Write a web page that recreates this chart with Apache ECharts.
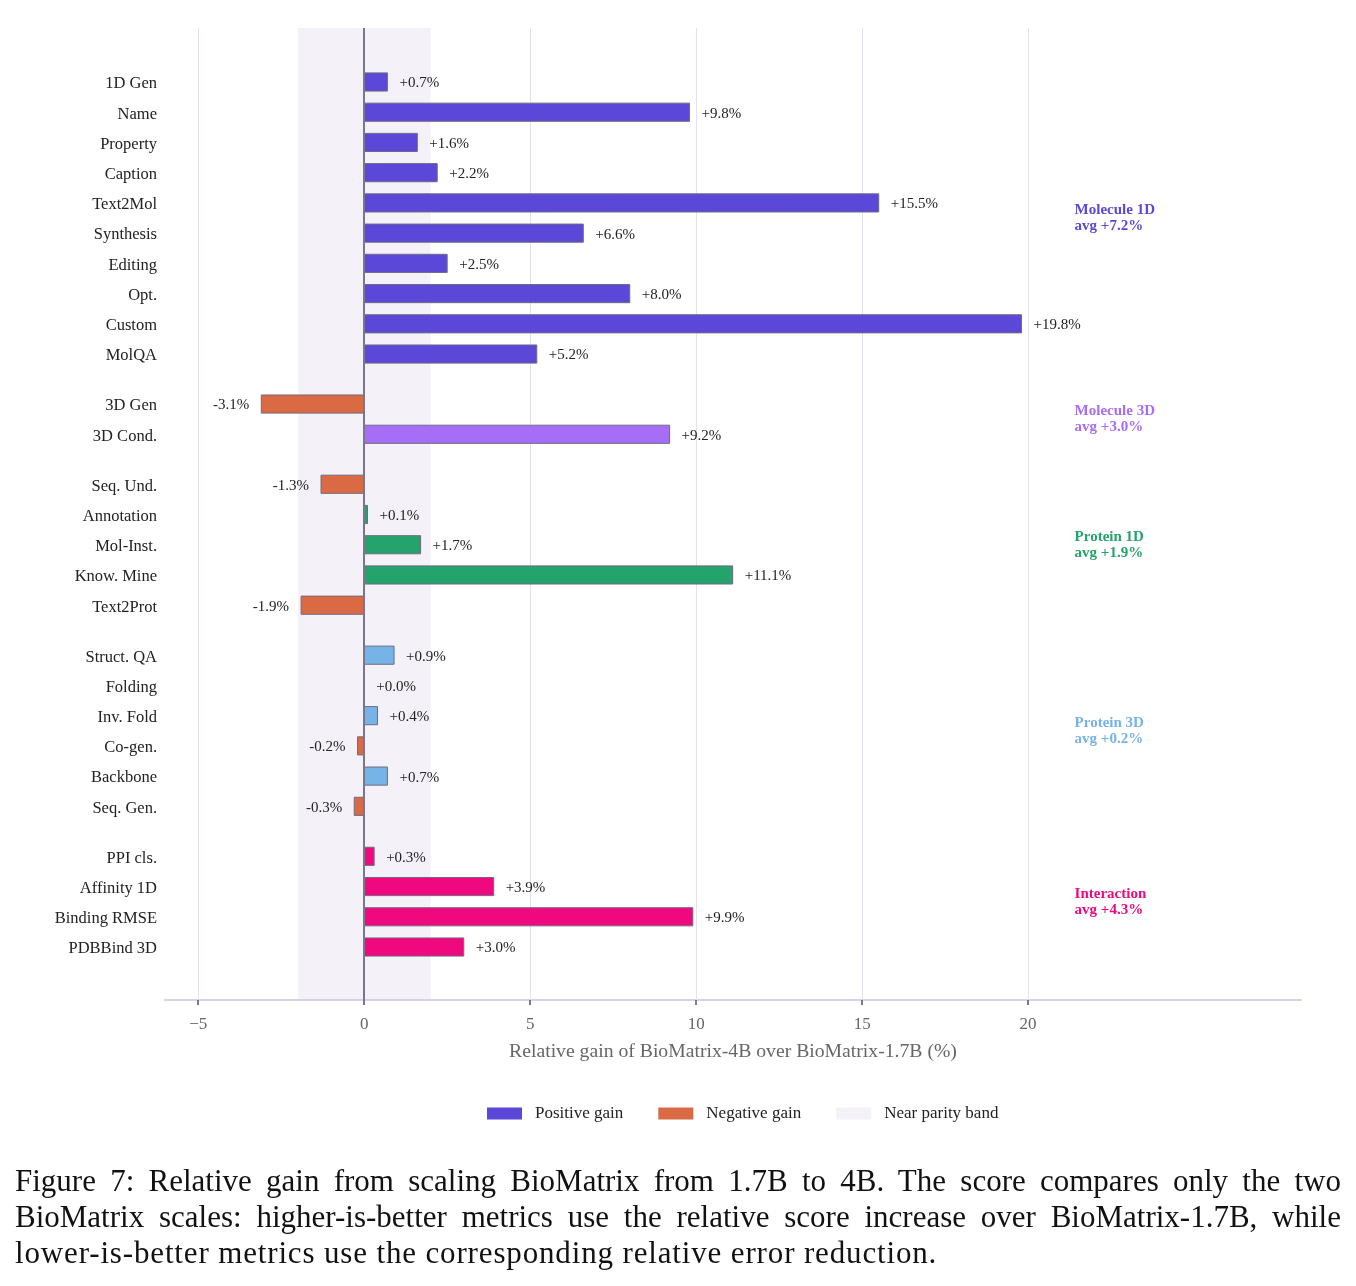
<!DOCTYPE html>
<html>
<head>
<meta charset="utf-8">
<script src="https://cdn.jsdelivr.net/npm/echarts@6/dist/echarts.min.js"></script>
<style>
  html, body { margin: 0; padding: 0; background: #fff; }
  #chart { width: 1356px; height: 1286px; }
  #caption {
    position: absolute; left: 15px; top: 1163px; width: 1326px;
    font-family: "Liberation Serif", serif; font-size: 31px;
    line-height: 36px; color: #111;
  }
  #caption span { display: block; text-align: justify; text-align-last: justify; white-space: normal; }
  #caption span.last { text-align-last: left; letter-spacing: 0.85px; }
</style>
</head>
<body>
<div id="chart"></div>
<div id="caption">
  <span>Figure 7: Relative gain from scaling BioMatrix from 1.7B to 4B. The score compares only the two</span>
  <span>BioMatrix scales: higher-is-better metrics use the relative score increase over BioMatrix-1.7B, while</span>
  <span class="last">lower-is-better metrics use the corresponding relative error reduction.</span>
</div>
<script>
// data
const groups = ['Molecule 1D', 'Molecule 3D', 'Protein 1D', 'Protein 3D', 'Interaction'];
const groupSizes = [10, 2, 5, 6, 4];
const groupAvg = [7.2, 3.0, 1.9, 0.2, 4.3];
const groupColors = ['#5b48d8', '#a66ef6', '#24a36c', '#76b3e7', '#f0087f'];
const negColor = '#d96a44';
const bandColor = '#f4f1f9';

const categories = [
  '1D Gen', 'Name', 'Property', 'Caption', 'Text2Mol', 'Synthesis', 'Editing', 'Opt.', 'Custom', 'MolQA',
  '3D Gen', '3D Cond.',
  'Seq. Und.', 'Annotation', 'Mol-Inst.', 'Know. Mine', 'Text2Prot',
  'Struct. QA', 'Folding', 'Inv. Fold', 'Co-gen.', 'Backbone', 'Seq. Gen.',
  'PPI cls.', 'Affinity 1D', 'Binding RMSE', 'PDBBind 3D'
];
const gains = [
  0.7, 9.8, 1.6, 2.2, 15.5, 6.6, 2.5, 8.0, 19.8, 5.2,
  -3.1, 9.2,
  -1.3, 0.1, 1.7, 11.1, -1.9,
  0.9, 0.0, 0.4, -0.2, 0.7, -0.3,
  0.3, 3.9, 9.9, 3.0
];
const xTicks = [-5, 0, 5, 10, 15, 20];
const parityBand = [-2, 2];

// row layout: one unit per row, extra space between groups
const GROUP_GAP = 0.654;
const positions = [];
const groupOf = [];
const groupCenters = [];
let cursor = 0;
groupSizes.forEach((n, g) => {
  const first = cursor;
  for (let i = 0; i < n; i++) {
    positions.push(cursor);
    groupOf.push(g);
    cursor += 1;
  }
  groupCenters.push((first + cursor - 1) / 2);
  cursor += GROUP_GAP;
});
const lastPos = positions[positions.length - 1];

const FONT = '"Liberation Serif", "Times New Roman", serif';

function fmtGain(v) {
  return (v >= 0 ? '+' : '-') + Math.abs(v).toFixed(1) + '%';
}

function labelAt(v) {
  let best = 0;
  positions.forEach((p, i) => {
    if (Math.abs(p - v) < Math.abs(positions[best] - v)) best = i;
  });
  return categories[best];
}

function renderBar(params, api) {
  const v = api.value(0);
  const y = api.value(1);
  const g = api.value(2);
  const start = api.coord([0, y]);
  const end = api.coord([v, y]);
  const h = api.size([0, 1])[1] * 0.6;
  const color = v < 0 ? negColor : groupColors[g];
  return {
    type: 'group',
    children: [
      {
        type: 'rect',
        shape: { x: Math.min(start[0], end[0]), y: start[1] - h / 2, width: Math.abs(end[0] - start[0]), height: h },
        style: { fill: color, stroke: '#6f6b80', lineWidth: 1 }
      },
      {
        type: 'text',
        x: v < 0 ? end[0] - 12 : end[0] + 12,
        y: start[1] + 1.5,
        style: {
          text: fmtGain(v), fill: '#222', fontSize: 15, fontFamily: FONT,
          align: v < 0 ? 'right' : 'left', verticalAlign: 'middle'
        }
      }
    ]
  };
}

function renderGroupLabel(params, api) {
  const g = api.value(2);
  const pt = api.coord([api.value(0), api.value(1)]);
  return {
    type: 'text',
    x: pt[0],
    y: pt[1],
    style: {
      text: groups[g] + '\navg ' + fmtGain(groupAvg[g]),
      fill: groupColors[g], fontSize: 15, fontWeight: 'bold', fontFamily: FONT,
      lineHeight: 16, align: 'left', verticalAlign: 'middle'
    }
  };
}

const posData = [], negData = [];
gains.forEach((v, i) => {
  const row = [v, positions[i], groupOf[i]];
  if (v < 0) negData.push(row); else posData.push(row);
});

const X_MIN = -6, X_MAX = 28.22;
const LABEL_X = 21.4;

const chart = echarts.init(document.getElementById('chart'), null, { renderer: 'canvas' });

const option = {
  animation: false,
  textStyle: { fontFamily: FONT },
  grid: { left: 165, right: 55, top: 28, bottom: 286, containLabel: false },
  legend: {
    data: ['Positive gain', 'Negative gain', 'Near parity band'],
    top: 1100,
    left: 482,
    icon: 'rect',
    itemWidth: 35,
    itemHeight: 12,
    itemGap: 35,
    textStyle: { fontSize: 17, color: '#222', fontFamily: FONT, padding: [2, 0, 0, 8] }
  },
  xAxis: {
    type: 'value',
    min: X_MIN,
    max: X_MAX,
    name: 'Relative gain of BioMatrix-4B over BioMatrix-1.7B (%)',
    nameLocation: 'middle',
    nameGap: 42,
    nameTextStyle: { color: '#666', fontSize: 19.7, fontFamily: FONT },
    axisLine: { show: true, onZero: false, lineStyle: { color: '#d6d2e6', width: 2 } },
    axisTick: { show: true, customValues: xTicks, length: 5, lineStyle: { color: '#555', width: 1.5 } },
    axisLabel: {
      customValues: xTicks,
      margin: 16,
      color: '#666',
      fontSize: 17,
      fontFamily: FONT,
      formatter: v => (v < 0 ? '\u2212' + Math.abs(v) : String(v))
    },
    splitLine: { show: false }
  },
  yAxis: {
    type: 'value',
    inverse: true,
    min: -1.786,
    max: lastPos + 1.753,
    axisLine: { show: false, onZero: false },
    axisTick: { show: false },
    splitLine: { show: false },
    axisLabel: {
      customValues: positions,
      margin: 8,
      color: '#222',
      fontSize: 16.5,
      fontFamily: FONT,
      formatter: v => '{a|' + labelAt(v) + '}',
      rich: {
        a: { fontSize: 16.5, fontFamily: FONT, color: '#222', padding: [4, 0, 0, 0] }
      }
    }
  },
  series: [
    {
      name: 'Near parity band',
      type: 'line',
      data: [],
      z: 1,
      itemStyle: { color: bandColor },
      lineStyle: { color: bandColor },
      markArea: {
        silent: true,
        z: 0,
        itemStyle: { color: bandColor },
        data: [[{ xAxis: parityBand[0] }, { xAxis: parityBand[1] }]]
      },
      markLine: {
        silent: true,
        z: 1,
        symbol: 'none',
        label: { show: false },
        lineStyle: { color: '#e4e1ec', width: 1, type: 'solid' },
        data: xTicks.filter(v => v !== 0).map(v => ({ xAxis: v }))
      }
    },
    {
      name: 'Positive gain',
      type: 'custom',
      z: 3,
      itemStyle: { color: groupColors[0] },
      renderItem: renderBar,
      encode: { x: 0, y: 1 },
      data: posData
    },
    {
      name: 'Negative gain',
      type: 'custom',
      z: 3,
      itemStyle: { color: negColor },
      renderItem: renderBar,
      encode: { x: 0, y: 1 },
      data: negData
    },
    {
      name: 'zero',
      type: 'line',
      data: [],
      z: 4,
      markLine: {
        silent: true,
        z: 5,
        symbol: 'none',
        label: { show: false },
        lineStyle: { color: '#7b7690', width: 2, type: 'solid' },
        data: [{ xAxis: 0 }]
      }
    },
    {
      name: 'groups',
      type: 'custom',
      z: 5,
      renderItem: renderGroupLabel,
      encode: { x: 0, y: 1 },
      data: groupCenters.map((c, g) => [LABEL_X, c, g])
    }
  ]
};

chart.setOption(option);
</script>
</body>
</html>
